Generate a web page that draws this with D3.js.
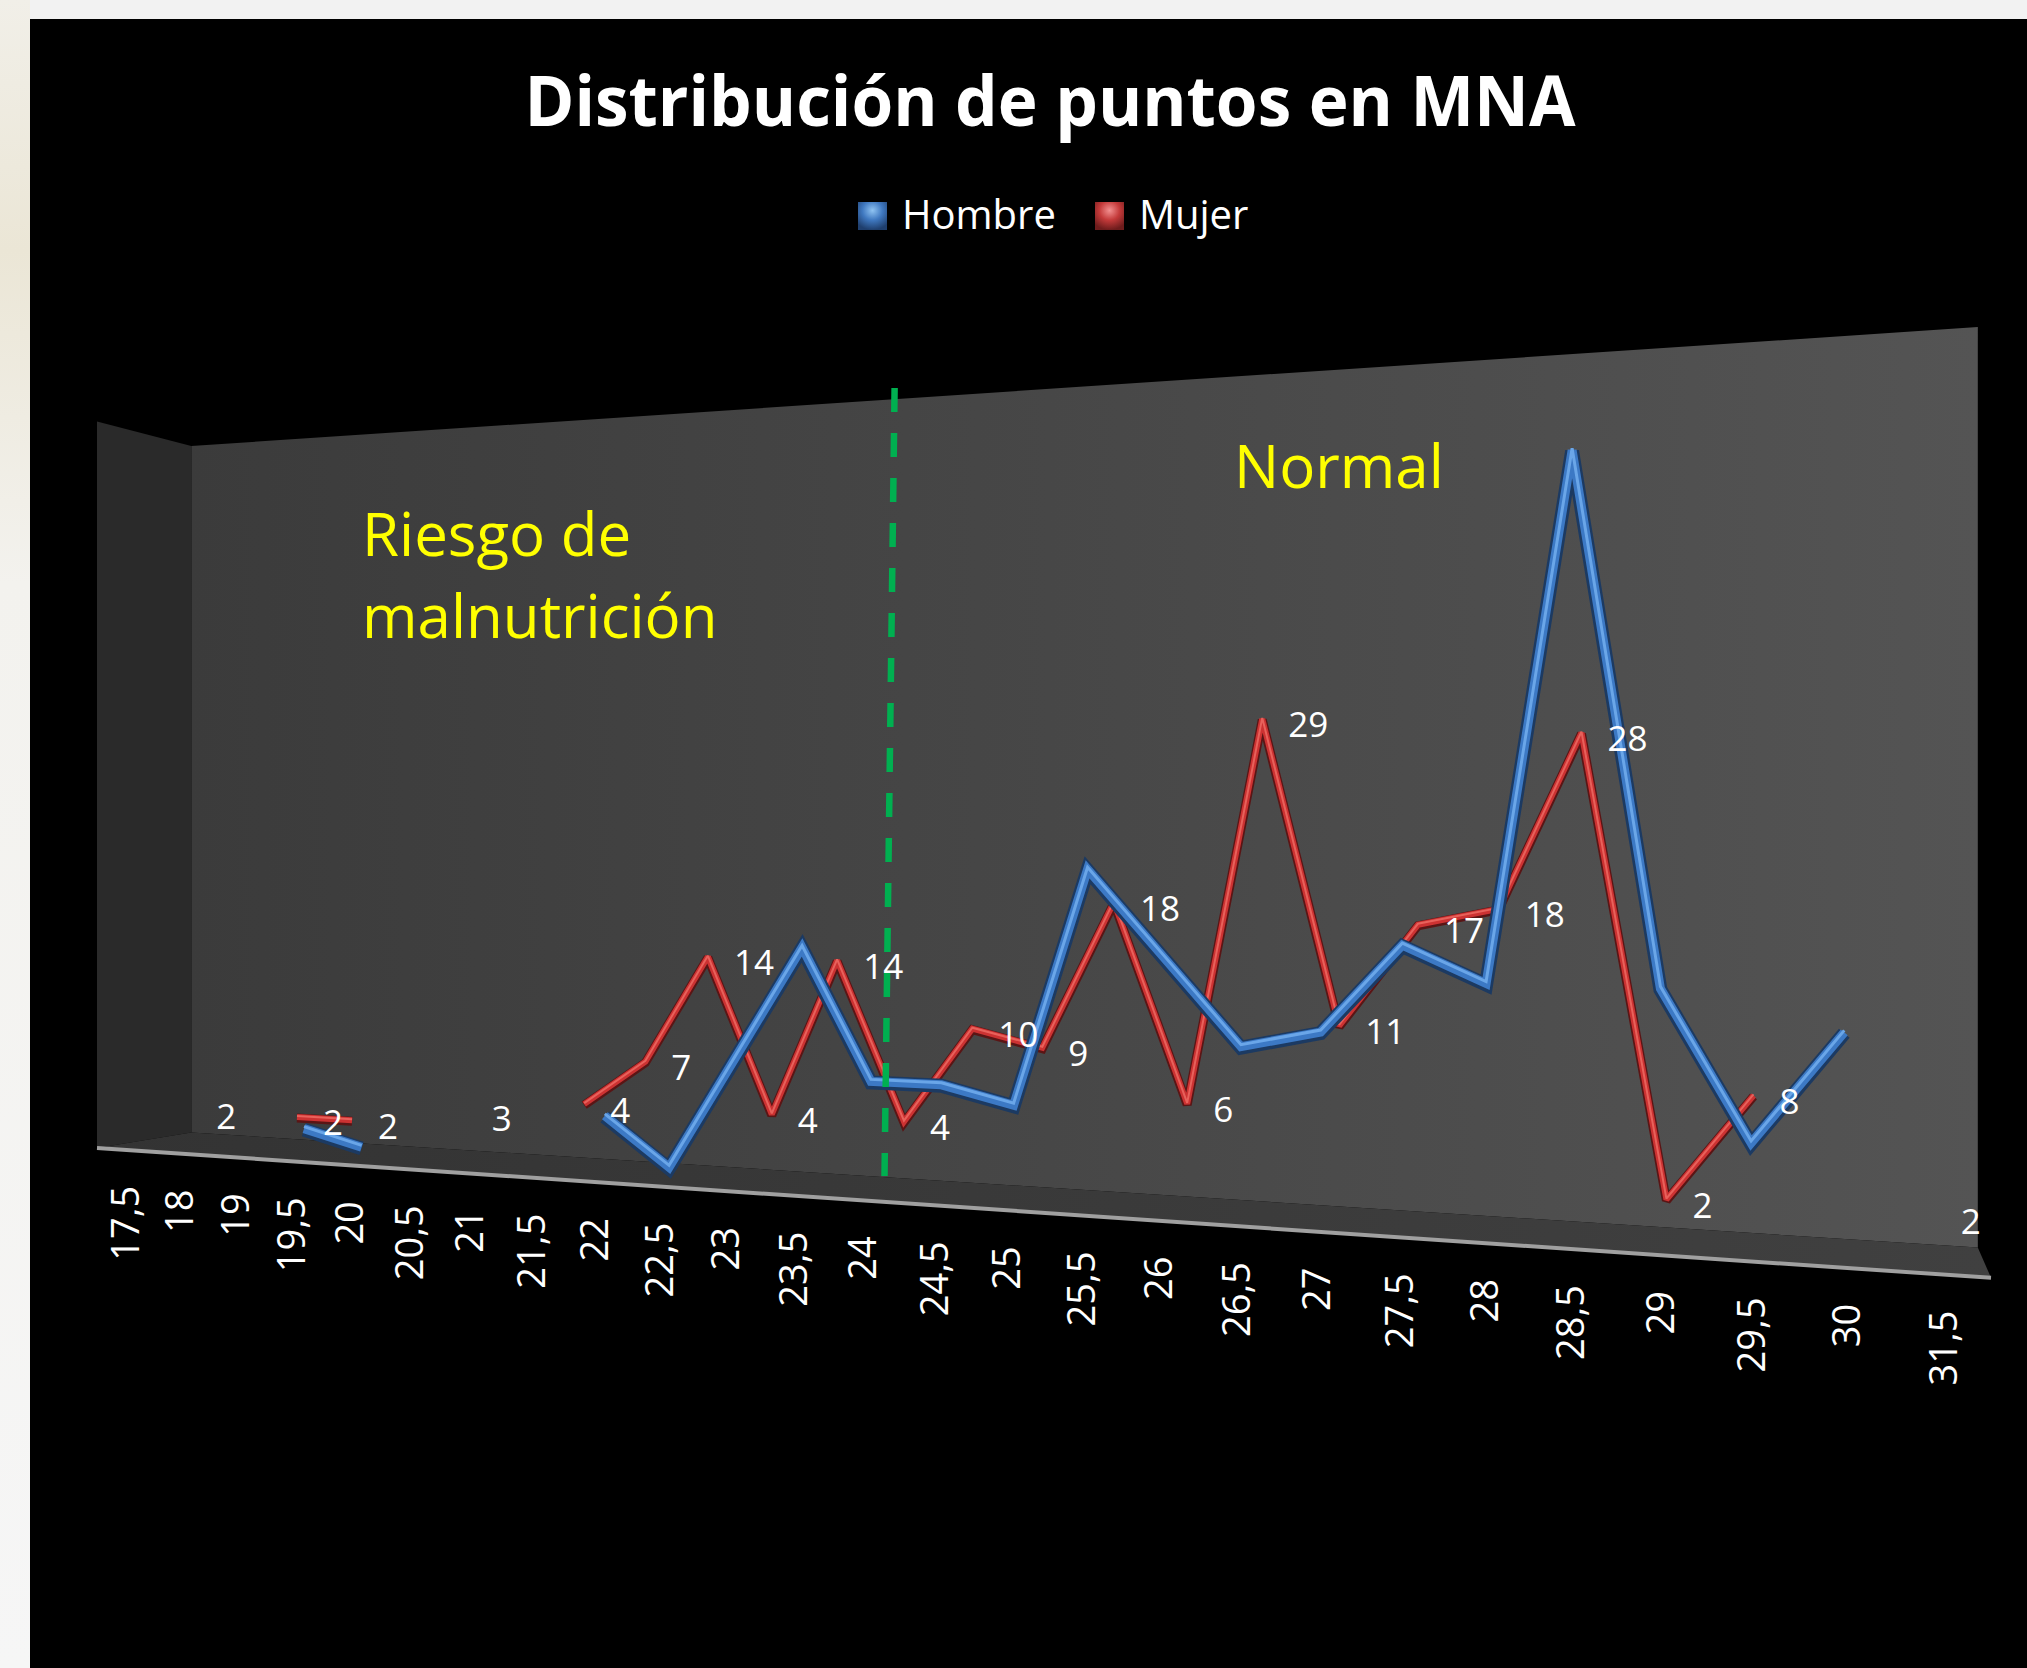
<!DOCTYPE html>
<html>
<head>
<meta charset="utf-8">
<script src="https://cdn.jsdelivr.net/npm/d3@7"></script>
<style>
  html, body { margin: 0; padding: 0; background: #f2f2f2; }
  svg { display: block; }
</style>
</head>
<body>
<div id="chart-container"></div>
<script>
// data
const categories = ["17,5", "18", "19", "19,5", "20", "20,5", "21", "21,5", "22", "22,5", "23", "23,5", "24",
  "24,5", "25", "25,5", "26", "26,5", "27", "27,5", "28", "28,5", "29", "29,5", "30", "31,5"];
const hombre = [null, null, null, 2, 1, null, null, null, 4, 1, 8, 15, 7,
  7, 6, 20, 15, 10, 11, 16, 14, 43, 14, 6, 12, null];
const mujer = [2, null, 2, 2, null, 3, null, 4, 7, 14, 4, 14, 4,
  10, 9, 18, 6, 29, 11, 17, 18, 28, 2, 8, null, 2];
const seriesNames = ["Hombre", "Mujer"];
const yMax = 50;
const title = "Distribución de puntos en MNA";

const width = 2027, height = 1668;
const font = "'Open Sans', 'DejaVu Sans', sans-serif";

// 3d box corners on screen (back wall + front left), used for the perspective
const BL = [191.3, 1132.4], BR = [1977.8, 1247.5], TL = [191.3, 446.0], TR = [1977.8, 327.1];
const FL = [97.0, 1147.9], wF = 0.945;
const wR = (BL[1] - TL[1]) / (BR[1] - TR[1]);
const ex = [BR[0] * wR - BL[0], BR[1] * wR - BL[1], wR - 1];
const ey = [TL[0] - BL[0], TL[1] - BL[1], 0];
const ez = [FL[0] * wF - BL[0], FL[1] * wF - BL[1], wF - 1];
const o = [BL[0], BL[1], 1];

// u: along categories, v: height (0..1), z: 0 back wall .. 1 front edge
function project(u, v, z) {
  const h = [0, 1, 2].map((k) => o[k] + u * ex[k] + v * ey[k] + z * ez[k]);
  return [h[0] / h[2], h[1] / h[2]];
}

const xScale = d3.scalePoint().domain(categories).range([0, 1]).padding(0.5);
const yScale = d3.scaleLinear().domain([0, yMax]).range([0, 1]);
const zScale = d3.scaleOrdinal().domain(seriesNames).range([0.85, 0.3]);

const svg = d3.select("#chart-container").append("svg")
  .attr("width", width).attr("height", height);

const defs = svg.append("defs");
const gWall = defs.append("linearGradient").attr("id", "wall").attr("x1", 0).attr("x2", 1).attr("y1", 0).attr("y2", 0);
gWall.append("stop").attr("offset", 0).attr("stop-color", "#3b3b3b");
gWall.append("stop").attr("offset", 1).attr("stop-color", "#545454");
const gFloor = defs.append("linearGradient").attr("id", "floor").attr("x1", 0).attr("x2", 1).attr("y1", 0).attr("y2", 0);
gFloor.append("stop").attr("offset", 0).attr("stop-color", "#333333");
gFloor.append("stop").attr("offset", 1).attr("stop-color", "#404040");
const gPage = defs.append("linearGradient").attr("id", "page").attr("x1", 0).attr("x2", 0).attr("y1", 0).attr("y2", 1);
gPage.append("stop").attr("offset", 0).attr("stop-color", "#f1efe8");
gPage.append("stop").attr("offset", 0.15).attr("stop-color", "#ebe6d6");
gPage.append("stop").attr("offset", 0.35).attr("stop-color", "#f3f2ee");
gPage.append("stop").attr("offset", 1).attr("stop-color", "#f6f6f6");

[["legBlue", "#8fc3f2", "#3f78c0", "#1f3f6e"], ["legRed", "#f29090", "#c43a3a", "#6e1c1c"]].forEach(([id, a, b, c]) => {
  const g = defs.append("radialGradient").attr("id", id).attr("cx", 0.5).attr("cy", 0.3).attr("r", 0.7);
  g.append("stop").attr("offset", 0).attr("stop-color", a);
  g.append("stop").attr("offset", 0.5).attr("stop-color", b);
  g.append("stop").attr("offset", 1).attr("stop-color", c);
});

// page + black panel
svg.append("rect").attr("width", width).attr("height", height).attr("fill", "#f2f2f2");
svg.append("rect").attr("width", 30).attr("height", height).attr("fill", "url(#page)");
svg.append("rect").attr("x", 30).attr("y", 19).attr("width", width - 30).attr("height", height - 19).attr("fill", "#000");

const path = (pts) => "M" + pts.map((p) => p.join(",")).join("L") + "Z";

// walls and floor
svg.append("path").attr("d", path([project(0, 0, 0), project(1, 0, 0), project(1, 1, 0), project(0, 1, 0)]))
  .attr("fill", "url(#wall)");
svg.append("path").attr("d", path([project(0, 0, 1), project(0, 0, 0), project(0, 1, 0), project(0, 1, 1)]))
  .attr("fill", "#2a2a2a");
svg.append("path").attr("d", path([project(0, 0, 1), project(1, 0, 1), project(1, 0, 0), project(0, 0, 0)]))
  .attr("fill", "url(#floor)");
svg.append("line")
  .attr("x1", project(0, 0, 1)[0]).attr("y1", project(0, 0, 1)[1])
  .attr("x2", project(1, 0, 1)[0]).attr("y2", project(1, 0, 1)[1])
  .attr("stroke", "#a0a0a0").attr("stroke-width", 4);

// yellow zone texts
const notes = svg.append("g").attr("font-family", font).attr("font-size", 60).attr("fill", "#ffff00");
notes.append("text").attr("x", 362).attr("y", 556).text("Riesgo de");
notes.append("text").attr("x", 362).attr("y", 638).text("malnutrición");
notes.append("text").attr("x", 1234).attr("y", 488).text("Normal");

// series
const series = seriesNames.map((name, k) => ({
  name,
  z: zScale(name),
  values: categories.map((c, i) => ({ c, v: [hombre, mujer][k][i] })),
}));

const styles = {
  Hombre: [
    { w: 14, c: "#1c3a62", dy: 1 },
    { w: 9, c: "#3c79c5", dy: 0 },
    { w: 3, c: "#6aa6e8", dy: -2 },
  ],
  Mujer: [
    { w: 9, c: "#5a1515", dy: 1 },
    { w: 6, c: "#cc3232", dy: 0 },
    { w: 2, c: "#e8615b", dy: -1 },
  ],
};

["Mujer", "Hombre"].forEach((name) => {
  const s = series.find((d) => d.name === name);
  const line = d3.line()
    .defined((d) => d.v != null)
    .x((d) => project(xScale(d.c), yScale(d.v), s.z)[0])
    .y((d) => project(xScale(d.c), yScale(d.v), s.z)[1]);
  styles[name].forEach((st) => {
    svg.append("path")
      .datum(s.values)
      .attr("d", line)
      .attr("transform", `translate(0,${st.dy})`)
      .attr("fill", "none")
      .attr("stroke", st.c)
      .attr("stroke-width", st.w)
      .attr("stroke-linejoin", "miter")
      .attr("stroke-miterlimit", 2.2);
  });
});

// data labels (Mujer)
const mj = series.find((d) => d.name === "Mujer");
svg.append("g")
  .attr("font-family", font).attr("font-size", 35).attr("fill", "#ffffff")
  .selectAll("text")
  .data(mj.values.filter((d) => d.v != null))
  .join("text")
  .attr("x", (d) => project(xScale(d.c), yScale(d.v), mj.z)[0] + 26)
  .attr("y", (d) => project(xScale(d.c), yScale(d.v), mj.z)[1] + 5)
  .attr("dominant-baseline", "central")
  .text((d) => d.v);

// green divider
svg.append("line")
  .attr("x1", 894.6).attr("y1", 388).attr("x2", 884.5).attr("y2", 1176)
  .attr("stroke", "#00b050").attr("stroke-width", 6.5)
  .attr("stroke-dasharray", "24 21");

// category axis labels
svg.append("g")
  .attr("font-family", font).attr("font-size", 38).attr("fill", "#ffffff")
  .selectAll("text")
  .data(categories)
  .join("text")
  .attr("transform", (c) => {
    const p = project(xScale(c), 0, 1);
    return `translate(${p[0]},${p[1] + 36}) rotate(-90)`;
  })
  .attr("text-anchor", "end")
  .attr("dominant-baseline", "central")
  .text((c) => c);

// title
svg.append("text")
  .attr("x", 1050).attr("y", 126)
  .attr("text-anchor", "middle")
  .attr("font-family", font).attr("font-weight", 700).attr("font-size", 70)
  .attr("fill", "#ffffff")
  .attr("textLength", 1051).attr("lengthAdjust", "spacingAndGlyphs")
  .text(title);

// legend
const legend = svg.append("g").attr("font-family", font).attr("font-size", 40).attr("fill", "#ffffff");
const legItems = [
  { name: "Hombre", x: 858, fill: "url(#legBlue)" },
  { name: "Mujer", x: 1095, fill: "url(#legRed)" },
];
legItems.forEach((d) => {
  legend.append("rect").attr("x", d.x).attr("y", 202).attr("width", 29).attr("height", 28).attr("fill", d.fill);
  legend.append("text").attr("x", d.x + 44).attr("y", 229).text(d.name);
});
</script>
</body>
</html>
